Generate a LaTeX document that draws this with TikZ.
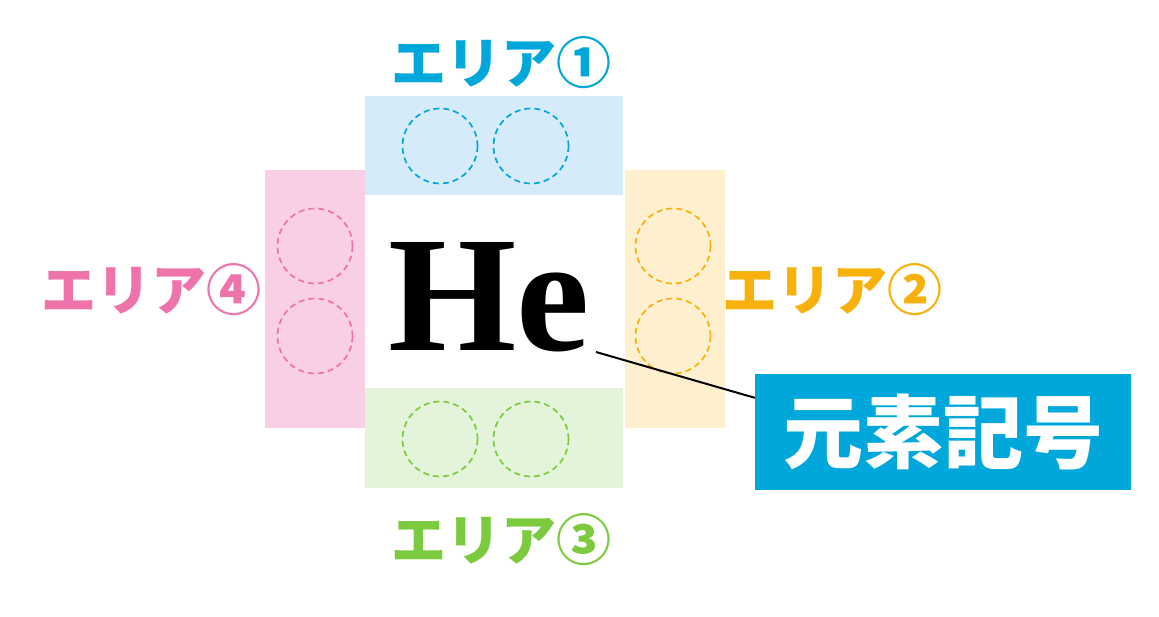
\documentclass[tikz,border=0pt]{standalone}
\usepackage{fontspec}
\setmainfont{Liberation Serif}
\newfontfamily\cjk{Noto Sans CJK JP}[UprightFont=*, BoldFont=* Black]
\usepackage{xcolor}
\usetikzlibrary{calc}
\definecolor{areaA}{HTML}{00A7DB}
\definecolor{areaB}{HTML}{F7B10A}
\definecolor{areaC}{HTML}{7CCB3F}
\definecolor{areaD}{HTML}{EE73AA}
\definecolor{fillA}{HTML}{D6EBFA}
\definecolor{fillB}{HTML}{FEF0CF}
\definecolor{fillC}{HTML}{E4F4DA}
\definecolor{fillD}{HTML}{F9CFE5}
\tikzset{
  arealabel/.style={font=\cjk\bfseries\fontsize{55}{55}\selectfont, inner sep=0pt},
  slot/.style={dashed, dash pattern=on 6pt off 4pt, line width=1.7pt}
}
\begin{document}
\begin{tikzpicture}[x=1pt,y=-1pt]
            \useasboundingbox (0,0) rectangle (1159,616);
            % the four areas
            \fill[fillA] (365,96) rectangle (623,195);
            \fill[fillD] (265,170) rectangle (365,428);
            \fill[fillB] (625,170) rectangle (725,428);
            \fill[fillC] (365,388) rectangle (623,488);
            \draw[slot,areaA] (440,146) circle (37.5) (531,146) circle (37.5);
            \draw[slot,areaD] (315,246) circle (37.5) (315,336) circle (37.5);
            \draw[slot,areaB] (673,246) circle (37.5) (673,336) circle (37.5);
            \draw[slot,areaC] (440,439) circle (37.5) (531,439) circle (37.5);
            \node[arealabel,areaA] (L1) at (501,63) {エリア①};
            \node[arealabel,areaB] (L2) at (832,290) {エリア②};
            \node[arealabel,areaC] (L3) at (501,540) {エリア③};
            \node[arealabel,areaD] (L4) at (151,290) {エリア④};
            % symbol and its label
            \node[font=\bfseries\fontsize{165}{165}\selectfont, inner sep=0pt] (He) at (489,297) {He};
            \node[fill=areaA, text=white, font=\cjk\bfseries\fontsize{80}{80}\selectfont,
                  minimum width=376, minimum height=116, inner sep=0pt] (kigou) at (943,432) {元素記号};
            \coordinate (tip) at (596,352);
            \draw[line width=2pt] (tip) -- ($(kigou.north west)+(0,24)$);
        \end{tikzpicture}
\end{document}
